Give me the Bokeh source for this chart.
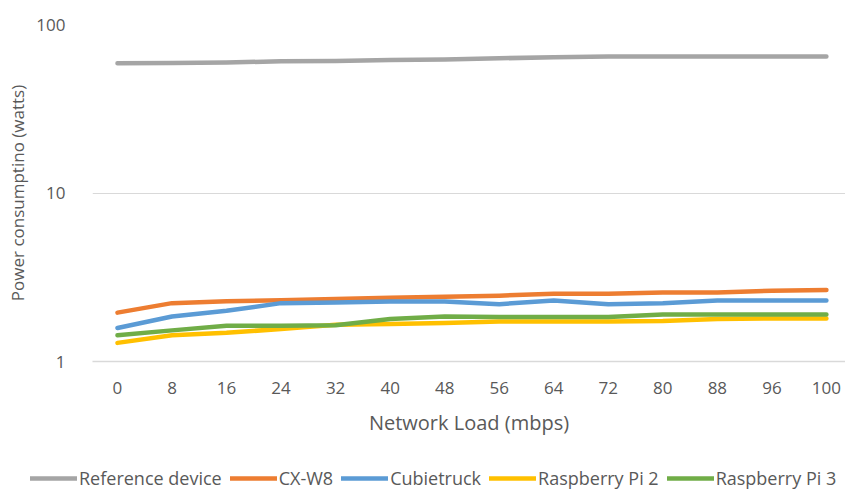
from bokeh.plotting import figure
from bokeh.layouts import column
from bokeh.models import Range1d, FixedTicker, NumeralTickFormatter, Legend, LegendItem
from bokeh.embed import file_html
from bokeh.resources import INLINE

categories = ["0", "8", "16", "24", "32", "40", "48", "56", "64", "72", "80", "88", "96", "100"]
reference_device = [58.8, 59.0, 59.5, 60.5, 60.8, 61.5, 62.0, 63.0, 64.0, 64.5, 64.5, 64.5, 64.5, 64.5]
cx_w8 = [1.95, 2.22, 2.28, 2.31, 2.35, 2.39, 2.42, 2.46, 2.52, 2.52, 2.57, 2.57, 2.63, 2.66]
cubietruck = [1.58, 1.85, 2.00, 2.22, 2.24, 2.27, 2.27, 2.19, 2.30, 2.19, 2.22, 2.30, 2.30, 2.30]
raspberry_pi_2 = [1.29, 1.43, 1.48, 1.56, 1.65, 1.67, 1.69, 1.73, 1.73, 1.73, 1.74, 1.79, 1.80, 1.80]
raspberry_pi_3 = [1.43, 1.53, 1.63, 1.63, 1.64, 1.79, 1.85, 1.84, 1.84, 1.84, 1.90, 1.90, 1.90, 1.90]
y_ticks = [1, 10, 100]

series = [
    ("Reference device", reference_device, "#A5A5A5"),
    ("CX-W8", cx_w8, "#ED7D31"),
    ("Cubietruck", cubietruck, "#5B9BD5"),
    ("Raspberry Pi 2", raspberry_pi_2, "#FFC000"),
    ("Raspberry Pi 3", raspberry_pi_3, "#70AD47"),
]

xs = list(range(len(categories)))
FONT = "Open Sans"
TXT = "#595959"

p = figure(width=845, height=459, y_axis_type="log",
           x_range=Range1d(-0.458, 13.35), y_range=Range1d(1, 100),
           output_backend="svg", toolbar_location=None,
           min_border_left=92, min_border_right=0, min_border_top=24,
           min_border_bottom=98)
p.outline_line_color = None

# legend strip below the chart (its lines lie outside its visible range)
lg = figure(width=845, height=30, output_backend="svg", toolbar_location=None,
            min_border=0, x_axis_location=None, y_axis_location=None,
            x_range=Range1d(-100, -99), y_range=Range1d(0, 1))
lg.grid.visible = False
lg.outline_line_color = None

items = []
for name, vals, col in series:
    p.line(xs, vals, line_color=col, line_width=4.5,
           line_cap="round", line_join="round")
    r = lg.line(xs, vals, line_color=col, line_width=4.5, line_cap="round")
    items.append(LegendItem(label=name, renderers=[r]))

# x axis
p.xaxis.ticker = FixedTicker(ticks=xs)
p.xaxis.major_label_overrides = {i: c for i, c in enumerate(categories)}
p.xaxis.major_tick_line_color = None
p.xaxis.minor_tick_line_color = None
p.xaxis.axis_line_color = "#D9D9D9"
p.xaxis.axis_line_width = 1.5
p.xaxis.major_label_standoff = 14
p.xaxis.axis_label = "Network Load (mbps)"
p.xaxis.axis_label_standoff = 12
p.xgrid.grid_line_color = None

# y axis
p.yaxis.ticker = FixedTicker(ticks=y_ticks)
p.yaxis.formatter = NumeralTickFormatter(format="0")
p.yaxis.major_tick_line_color = None
p.yaxis.minor_tick_line_color = None
p.yaxis.axis_line_color = None
p.yaxis.major_label_standoff = 21
p.yaxis.axis_label = "Power consumptino (watts)"
p.yaxis.axis_label_standoff = 4
p.ygrid.grid_line_color = "#D9D9D9"
p.ygrid.grid_line_width = 1.2
p.ygrid.minor_grid_line_color = None

for ax in (p.xaxis, p.yaxis):
    ax.major_label_text_font = FONT
    ax.major_label_text_font_size = "17px"
    ax.major_label_text_color = TXT
    ax.axis_label_text_font = FONT
    ax.axis_label_text_font_style = "normal"
    ax.axis_label_text_color = TXT
p.yaxis.axis_label_text_font_size = "17px"
p.xaxis.axis_label_text_font_size = "20px"

legend = Legend(items=items, orientation="horizontal",
                glyph_width=47, glyph_height=10, label_standoff=2, spacing=8,
                padding=0, margin=0, border_line_color=None,
                label_text_font=FONT, label_text_font_size="18px",
                label_text_color=TXT, background_fill_alpha=0)

if "frame_align" in lg.properties():
    # keep the legend strip's frame spanning the full width
    p.frame_align = False
    lg.frame_align = False
    legend.location = (30, -1)
    lg.add_layout(legend, "center")
else:
    legend.location = (-62, 0)
    lg.add_layout(legend, "below")

layout = column(p, lg, spacing=0)
open("out.html", "w").write(file_html(layout, INLINE))
